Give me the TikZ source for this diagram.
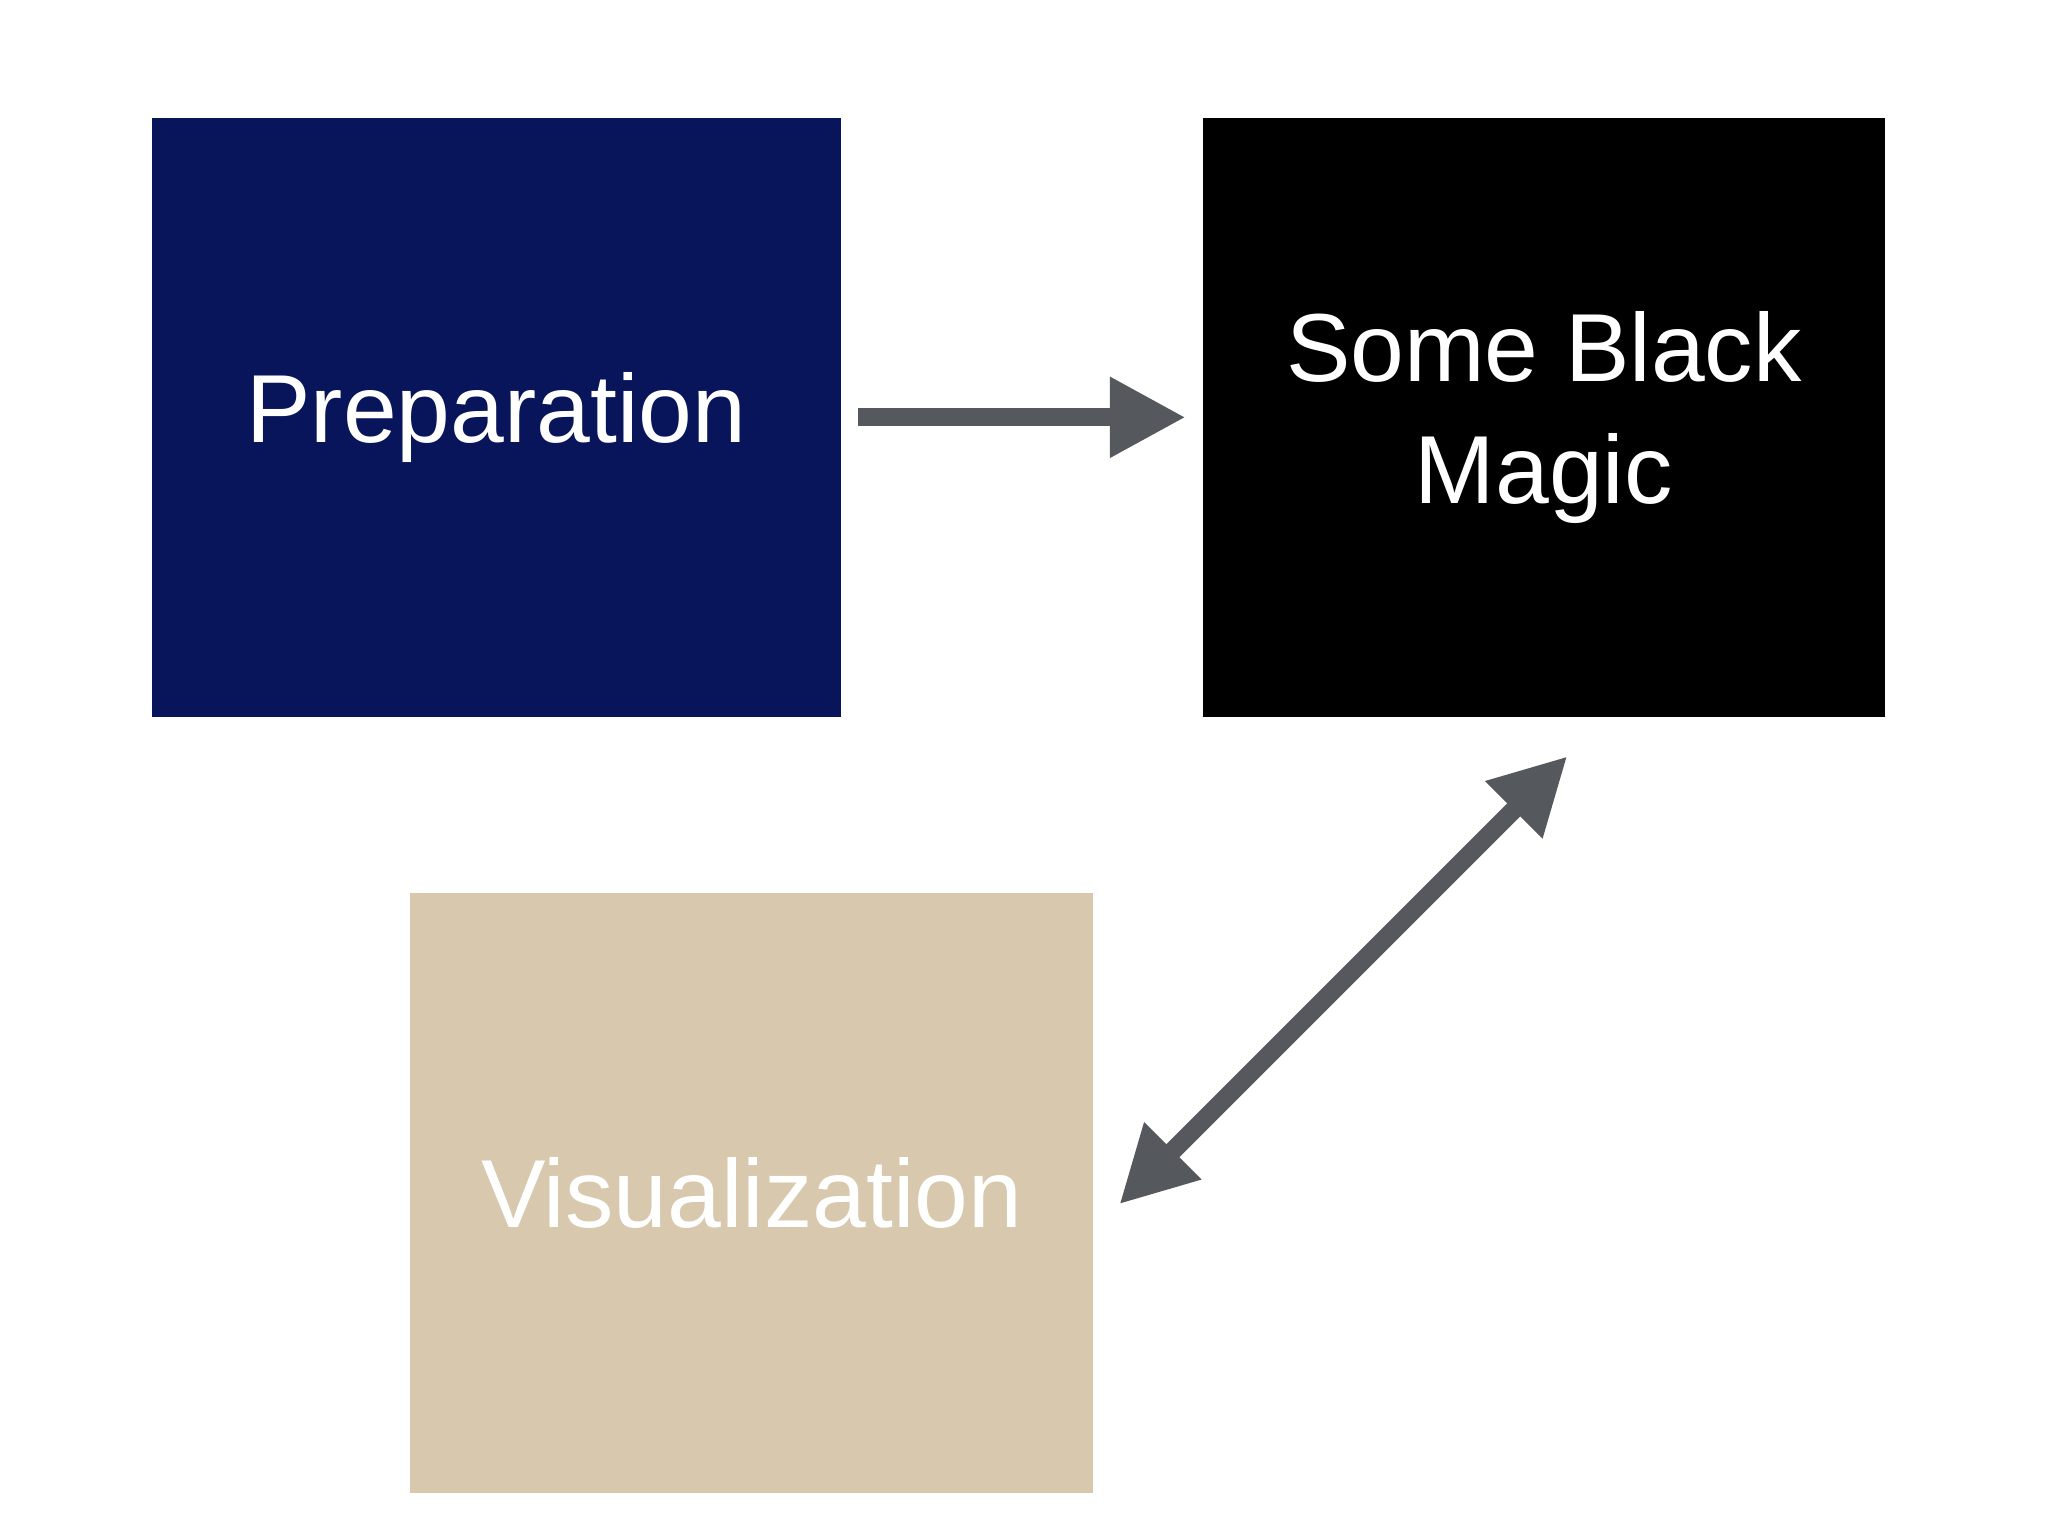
\documentclass[tikz,border=0pt]{standalone}
\usepackage{fontspec}
\setmainfont{Liberation Sans}
\usetikzlibrary{arrows.meta}
\definecolor{navy}{HTML}{08155A}
\definecolor{tan}{HTML}{D8C8AE}
\definecolor{arr}{HTML}{55595E}
\begin{document}
\begin{tikzpicture}[x=1pt,y=-1pt,
  box/.style={draw=none,minimum height=459pt,inner sep=0pt,text=white,
    font=\fontsize{74}{93}\selectfont,align=center},
  conn/.style={draw=arr,line width=14pt,-{Triangle[length=58pt,width=58pt]}}]
\useasboundingbox[fill=white] (0,0) rectangle (1568,1176);
\node[box,fill=navy,minimum width=528pt] (prep) at (380,319.5) {Preparation};
\node[box,fill=black,minimum width=522pt] (magic) at (1182,319.5) {Some Black\\Magic};
\node[box,fill=tan,minimum width=523pt] (vis) at (575.5,913.5) {Visualization};
\coordinate (d1) at (857,922);
\coordinate (d2) at (1200,579);
\draw[conn,shorten <=13pt,shorten >=13pt] (prep.east) -- (magic.west);
\draw[conn,{Triangle[length=58pt,width=58pt]}-{Triangle[length=58pt,width=58pt]}] (d1) -- (d2);
\end{tikzpicture}
\end{document}
